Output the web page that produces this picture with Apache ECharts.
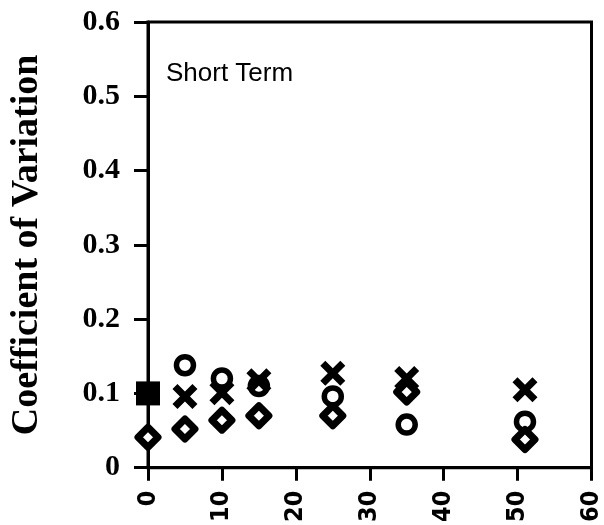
<!DOCTYPE html>
<html>
<head>
<meta charset="utf-8">
<script src="https://cdn.jsdelivr.net/npm/echarts@6/dist/echarts.min.js"></script>
<style>
  html, body { margin: 0; padding: 0; background: #fff; }
  #chart { width: 604px; height: 525px; }
</style>
</head>
<body>
<div id="chart"></div>
<script>
// Sampling interval positions and coefficient of variation per series
const xCircle  = [5, 10, 15, 25, 35, 51];
const yCircle  = [0.138, 0.12, 0.11, 0.096, 0.058, 0.062];
const xCross   = [5, 10, 15, 25, 35, 51];
const yCross   = [0.096, 0.101, 0.117, 0.127, 0.12, 0.105];
const xDiamond = [0, 5, 10, 15, 25, 35, 51];
const yDiamond = [0.041, 0.052, 0.064, 0.07, 0.07, 0.102, 0.038];
const xSquare  = [0];
const ySquare  = [0.1];
const xTicks   = [0, 10, 20, 30, 40, 50, 60];
const yTicks   = [0, 0.1, 0.2, 0.3, 0.4, 0.5, 0.6];

const pairs = (xs, ys) => xs.map((x, i) => [x, ys[i]]);

const crossPath = 'path://M0,4 L4,0 L10,6 L16,0 L20,4 L14,10 L20,16 L16,20 L10,14 L4,20 L0,16 L6,10 Z';

const chart = echarts.init(document.getElementById('chart'), null, { renderer: 'canvas' });
chart.setOption({
  animation: false,
  backgroundColor: '#fff',
  title: {
    text: 'Short Term',
    left: 166,
    top: 61,
    padding: 0,
    textStyle: { fontFamily: '"Liberation Sans", Arial, sans-serif', fontWeight: 'normal', fontSize: 26, color: '#000' }
  },
  grid: {
    left: 148, right: 9, top: 22, bottom: 57,
    show: true, borderColor: '#000', borderWidth: 3, backgroundColor: 'transparent'
  },
  xAxis: {
    type: 'value', min: 0, max: 60, interval: 10,
    axisLine: { show: true, onZero: false, lineStyle: { color: '#000', width: 3 } },
    axisTick: { show: true, length: 13, lineStyle: { color: '#000', width: 3 } },
    splitLine: { show: false },
    axisLabel: {
      rotate: 90, margin: 23, color: '#000',
      fontFamily: '"Liberation Sans Narrow", "DejaVu Sans Condensed", "Liberation Sans", sans-serif',
      fontWeight: 'bold', fontSize: 25,
      formatter: v => xTicks.includes(v) ? String(v) : ''
    }
  },
  yAxis: {
    type: 'value', min: 0, max: 0.6, interval: 0.1,
    name: 'Coefficient of Variation',
    nameLocation: 'middle', nameGap: 102,
    nameTextStyle: { fontFamily: '"Liberation Serif", "Times New Roman", serif', fontWeight: 'bold', fontSize: 38, color: '#000' },
    axisLine: { show: true, lineStyle: { color: '#000', width: 3 } },
    axisTick: { show: true, length: 14, lineStyle: { color: '#000', width: 3 } },
    splitLine: { show: false },
    axisLabel: {
      margin: 28, color: '#000',
      fontFamily: '"Liberation Serif", "Times New Roman", serif',
      fontWeight: 'bold', fontSize: 30,
      formatter: v => {
        const t = yTicks.find(k => Math.abs(k - v) < 1e-9);
        return t === undefined ? '' : (t === 0 ? '0' : t.toFixed(1));
      }
    }
  },
  series: [
    {
      type: 'scatter', name: 'circle', data: pairs(xCircle, yCircle),
      symbol: 'circle', symbolSize: 17,
      itemStyle: { color: '#fff', borderColor: '#000', borderWidth: 5.5, opacity: 1 }
    },
    {
      type: 'scatter', name: 'diamond', data: pairs(xDiamond, yDiamond),
      symbol: 'diamond', symbolSize: [20, 20],
      itemStyle: { color: '#fff', borderColor: '#000', borderWidth: 7, borderJoin: 'round', opacity: 1 }
    },
    {
      type: 'scatter', name: 'cross', data: pairs(xCross, yCross),
      symbol: crossPath, symbolSize: 25, symbolKeepAspect: true,
      itemStyle: { color: '#000', opacity: 1 }
    },
    {
      type: 'scatter', name: 'square', data: pairs(xSquare, ySquare),
      symbol: 'rect', symbolSize: 24,
      itemStyle: { color: '#000', opacity: 1 }
    }
  ]
});
</script>
</body>
</html>
